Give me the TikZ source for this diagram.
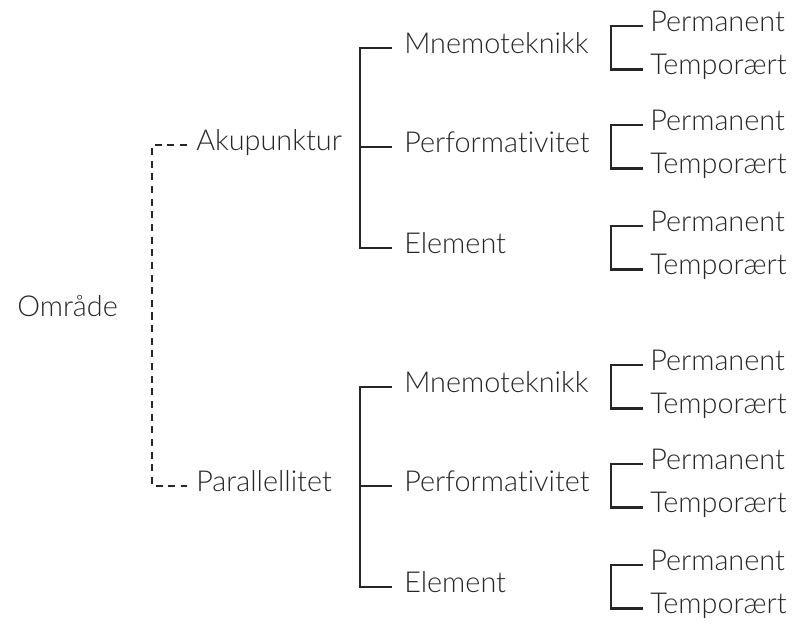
\documentclass[tikz,border=0pt]{standalone}
\usepackage{fontspec}
\setmainfont{Lato}[UprightFont=* Light, Ligatures=NoCommon]
\usetikzlibrary{positioning}
\tikzset{
  lbl/.style={anchor=west, inner sep=0pt, text=black!85, font=\fontsize{20.5}{24}\selectfont, text height=0.72em, text depth=0pt},
  bar/.style={line width=1.8pt, draw=black!85},
  dashbar/.style={line width=1.8pt, draw=black!85, dash pattern=on 5pt off 4pt}
}

\begin{document}
\begin{tikzpicture}[x=0.025cm, y=-0.025cm]
  \useasboundingbox (0,0) rectangle (792,627);

  % root and first level
  \node[lbl] (omraade) at (17,311) {Område};
  \node[lbl] (aku) at (196,145) {Akupunktur};
  \node[lbl] (par) at (196,486) {Parallellitet};
  \draw[dashbar] ([xshift=-0.225cm]aku.west) -| ([xshift=-1.1cm]par.west) -- ([xshift=-0.225cm]par.west);

  % second level
  \node[lbl] (mnA) at (404,48) {Mnemoteknikk};
  \node[lbl] (pfA) at (404,147) {Performativitet};
  \node[lbl] (elA) at (404,248) {Element};
  \draw[bar] ([xshift=-0.3cm]mnA.west) -| ([xshift=-1.1cm]elA.west) -- ([xshift=-0.3cm]elA.west);
  \draw[bar] ([xshift=-0.3cm]pfA.west) -- ([xshift=-1.1cm]pfA.west);

  \node[lbl] (mnB) at (404,387) {Mnemoteknikk};
  \node[lbl] (pfB) at (404,486) {Performativitet};
  \node[lbl] (elB) at (404,587) {Element};
  \draw[bar] ([xshift=-0.3cm]mnB.west) -| ([xshift=-1.1cm]elB.west) -- ([xshift=-0.3cm]elB.west);
  \draw[bar] ([xshift=-0.3cm]pfB.west) -- ([xshift=-1.1cm]pfB.west);

  % leaves
  \foreach \n/\y in {mnA/48, pfA/147, elA/248, mnB/387, pfB/486, elB/587}{
    \node[lbl] (per\n) at (650,\y-22) {Permanent};
    \node[lbl] (tmp\n) at (650,\y+21.5) {Temporært};
    \draw[bar] ([xshift=-0.175cm]per\n.west) -| ([xshift=-0.975cm]tmp\n.west) -- ([xshift=-0.175cm]tmp\n.west);
  }
\end{tikzpicture}
\end{document}
